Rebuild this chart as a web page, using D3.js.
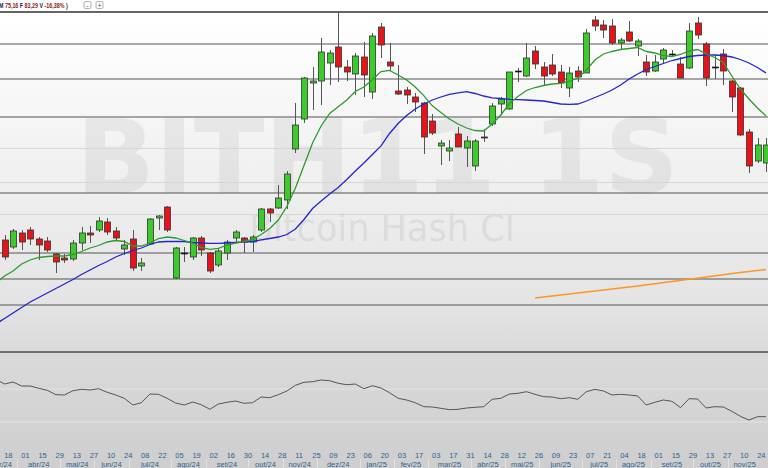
<!DOCTYPE html>
<html><head><meta charset="utf-8">
<script src="https://cdn.jsdelivr.net/npm/d3@7"></script>
<style>html,body{margin:0;padding:0;background:#fff;overflow:hidden}svg{display:block}</style>
</head><body>
<script>
// ---- data (weekly candles, index 0 = week of 18 mar 2024) ----
const openP = [54.8,52.7,56.9,57.8,55.1,54.5,50.6,49.4,49.1,53.9,
 56.9,57.8,60.2,57.5,52.1,55.1,47.0,53.6,61.4,64.7,
 43.4,50.9,49.7,55.4,50.9,47.3,50.9,55.4,55.4,54.2,
 57.8,64.1,64.4,66.8,82.1,91.1,101.9,102.5,107.9,112.7,
 106.7,104.6,109.7,99.2,118.7,108.2,99.5,99.8,97.7,95.9,
 90.5,83.0,81.5,86.6,82.4,77.0,85.7,89.6,95.6,94.1,
 105.5,104.0,111.5,106.7,107.3,105.2,100.4,105.5,104.9,120.8,
 119.3,119.0,113.9,117.2,113.0,108.2,105.5,109.1,110.6,107.6,
 106.4,119.9,113.6,106.7,110.6,102.5,100.4,87.2,78.5,77.9];
const closeP = [49.7,57.5,54.2,55.1,53.3,51.8,48.2,48.8,53.9,56.9,
 56.3,60.5,57.2,55.4,53.3,46.4,47.9,61.1,62.0,57.8,
 52.4,50.9,55.4,51.8,45.5,51.5,54.2,57.2,54.2,55.7,
 64.1,62.9,67.4,74.6,89.3,103.4,102.5,111.2,110.9,106.7,
 105.2,110.0,104.3,116.0,113.3,107.0,98.6,98.3,96.2,85.7,
 86.9,83.9,82.4,82.7,84.5,84.5,85.4,95.0,97.1,105.2,
 105.5,109.4,107.6,104.0,104.6,101.9,104.9,103.7,116.9,119.0,
 117.8,113.9,114.8,114.5,114.5,105.2,108.2,111.8,110.6,103.4,
 117.5,116.3,103.4,106.7,105.5,97.7,86.3,77.0,83.3,83.29];
const highP = [56.3,58.1,57.8,58.7,55.7,55.7,50.9,50.6,54.8,58.7,
 59.0,61.7,61.4,58.7,54.8,57.8,49.4,61.4,62.3,65.0,
 52.7,52.7,55.7,56.0,51.2,52.4,54.8,57.8,55.7,56.3,
 64.4,64.4,71.3,75.5,95.9,103.7,106.7,115.4,111.8,123.2,
 108.8,110.9,114.2,116.9,119.9,113.9,107.3,100.7,98.9,96.2,
 92.6,84.8,84.8,88.7,86.0,85.1,88.1,95.9,97.7,105.2,
 106.4,113.9,113.0,108.2,110.6,107.3,106.7,107.0,118.1,122.0,
 120.8,121.1,115.4,120.5,115.1,110.3,110.3,112.4,111.8,109.7,
 119.9,121.7,114.2,110.3,112.1,102.8,100.7,88.1,85.4,85.4];
const lowP = [48.8,52.1,51.8,53.3,48.8,51.2,44.9,47.9,48.5,51.8,
 53.9,57.2,56.3,54.5,50.3,45.5,45.5,53.3,57.8,57.2,
 43.1,48.2,48.8,50.0,44.9,46.7,48.8,53.9,50.9,51.2,
 57.2,60.2,64.1,64.1,80.9,89.9,93.8,95.3,101.3,102.2,
 102.5,98.3,97.7,97.1,109.4,105.8,98.3,95.6,93.2,80.6,
 86.3,77.3,78.5,82.7,76.7,75.5,84.2,89.0,92.3,93.8,
 102.2,103.7,106.1,101.0,104.0,100.4,97.7,102.2,104.9,117.5,
 115.4,113.3,111.8,114.2,110.0,104.0,105.2,107.6,110.0,103.4,
 106.1,115.1,101.0,103.1,101.3,93.2,86.0,74.9,77.9,75.16];

// moving averages, index -1 .. 89
const maGreen = [41.9,44.0,45.5,47.6,48.8,49.55,49.85,50.0,50.0,50.45,
 51.35,52.4,53.15,54.2,54.65,54.35,53.0,53.0,53.9,55.25,
 55.7,55.4,54.65,53.9,52.55,52.0,52.3,53.3,53.85,54.35,
 54.95,56.45,58.25,60.8,64.85,70.4,77.15,83.9,89.0,92.75,
 94.8,96.8,99.35,100.7,102.95,105.35,105.7,104.3,102.8,100.7,
 98.1,95.05,93.05,91.1,89.6,88.4,87.65,87.5,89.6,92.3,
 95.75,97.85,99.65,100.55,101.15,101.6,101.8,102.35,103.4,105.8,
 108.8,110.6,111.35,111.95,112.25,112.55,111.35,110.9,110.15,109.85,
 110.45,111.5,111.95,110.6,109.55,108.05,104.0,100.1,97.1,94.4,92.0];
const maBlue = [29.6,31.25,32.9,34.55,36.2,37.55,38.9,40.25,41.6,42.95,
 44.45,45.8,47.15,48.35,49.7,50.75,51.65,52.4,53.45,54.2,
 54.35,54.35,54.35,54.05,53.9,53.8,53.8,53.9,54.05,54.2,
 54.35,54.85,55.25,55.7,56.45,58.1,60.95,64.25,66.5,68.6,
 70.55,72.95,75.5,77.9,80.45,83.05,86.75,89.75,92.15,94.1,
 95.6,96.8,97.7,98.5,98.95,99.3,98.75,98.0,97.45,97.25,
 97.0,96.9,96.8,96.65,96.5,96.05,95.6,95.5,95.6,96.5,
 97.55,98.6,99.8,101.3,103.1,104.6,105.95,106.85,107.75,108.65,
 109.25,109.85,110.15,110.3,110.3,110.15,109.7,108.95,107.9,106.55,104.9];
const maOrangeIdx = [62,66,70,74,78,82,86,89];
const maOrange = [37.4,38.6,39.8,41.0,42.35,43.7,45.05,45.95];

// lower indicator, index -1 .. 89
const indicator = [60.7,56,58,54,54,51.7,49.7,45.3,45,49.3,
 50.7,50,51.3,47.7,45,41.7,35,37.3,46,45.7,
 41.7,37,35,38,35.3,30.7,36,37.7,39,36.7,
 37.3,43,42.3,45.3,49,54.7,57.7,58.3,60,59.3,
 56.7,55.3,56,51.3,54.3,52,47.3,41.7,40,37.3,
 33.3,33,31.7,30.3,30.7,32,32.7,33.3,40.7,41.7,
 46,46.7,48.3,45.7,43.3,43,41.3,42.3,40.7,48.3,
 50.7,49,45,45.7,45,44,35,37.7,40,38.7,
 32.3,41.3,41,32,33.3,33,28.7,23.7,20,23.3,23.3];

const levelsDark = [113.6,103.1,91.7,68.9,50.9,43.1,35.3];
const levelsLight = [82.4,72.2,62.6];
const indLevels = [51,18];

const dayTicks = ["18","01","15","29","13","27","10","24","08","22","05","19","02","16","30",
 "14","28","11","25","09","23","06","20","03","17","03","17","31","14","28",
 "12","26","09","23","07","21","04","18","01","15","29","13","27","10","24"];
const monthLabels = ["mar/24","abr/24","mai/24","jun/24","jul/24","ago/24","set/24","out/24","nov/24","dez/24",
 "jan/25","fev/25","mar/25","abr/25","mai/25","jun/25","jul/25","ago/25","set/25","out/25","nov/25"];
const monthFirst = [-2,2,7,11,15,20,24,29,33,37,42,46,50,55,59,63,68,72,76,81,85];
const monthLast  = [1,6,10,14,19,23,28,32,36,41,45,49,54,58,62,67,71,75,80,84,88];

const headerParts = ["M ","75,16 ","F ","83,29 ","V ","-16,38% ",")"];

// ---- chart ----
const W=768,H=468;
const svg=d3.select("body").append("svg").attr("width",W).attr("height",H);
const defs=svg.append("defs");
const g=defs.append("linearGradient").attr("id","bg").attr("x1",0).attr("y1",0).attr("x2",0).attr("y2",1);
[[0,"#ffffff"],[0.04,"#ffffff"],[0.35,"#f1f1f1"],[0.65,"#e4e4e4"],[0.75,"#dadada"],[1,"#cecece"]]
 .forEach(s=>g.append("stop").attr("offset",s[0]).attr("stop-color",s[1]));
defs.append("clipPath").attr("id","cp").append("rect").attr("x",0).attr("y",12).attr("width",W).attr("height",340);
defs.append("clipPath").attr("id","ci").append("rect").attr("x",0).attr("y",353).attr("width",W).attr("height",87);

svg.append("rect").attr("width",W).attr("height",H).attr("fill","url(#bg)");

const x=d3.scaleLinear().domain([0,88]).range([4.5,757.5]);
const y=d3.scaleLinear().domain([21.2,126.8]).range([352,0]);
const yi=d3.scaleLinear().domain([0,88]).range([440,352]);

// watermark
svg.append("text").attr("x",76).attr("y",193).attr("textLength",603).attr("lengthAdjust","spacingAndGlyphs")
 .attr("font-family","DejaVu Sans").attr("font-weight","bold").attr("font-size",103)
 .attr("fill","#000").attr("fill-opacity",0.055).text("BITH11 1S");
svg.append("text").attr("x",249).attr("y",241).attr("textLength",266).attr("lengthAdjust","spacingAndGlyphs")
 .attr("font-family","DejaVu Sans").attr("font-size",38)
 .attr("fill","#000").attr("fill-opacity",0.085).text("Bitcoin Hash CI");

// price levels
svg.selectAll(".ll").data(levelsLight).join("line").attr("x1",0).attr("x2",W)
 .attr("y1",d=>Math.round(y(d))+0.5).attr("y2",d=>Math.round(y(d))+0.5).attr("stroke","#d6d6d6").attr("stroke-width",1);
svg.selectAll(".ld").data(levelsDark).join("line").attr("x1",0).attr("x2",W)
 .attr("y1",d=>y(d)).attr("y2",d=>y(d)).attr("stroke","#555").attr("stroke-width",1.2);
svg.append("line").attr("x1",0).attr("x2",W).attr("y1",12).attr("y2",12).attr("stroke","#666").attr("stroke-width",2);

// indicator panel
svg.append("line").attr("x1",0).attr("x2",W).attr("y1",352).attr("y2",352).attr("stroke","#707070").attr("stroke-width",2);
svg.selectAll(".il").data(indLevels).join("line").attr("x1",0).attr("x2",W)
 .attr("y1",d=>yi(d)).attr("y2",d=>yi(d)).attr("stroke","#e4e4e4").attr("stroke-width",1.2);

const plot=svg.append("g").attr("clip-path","url(#cp)");
const idxFrom=(arr,start)=>arr.map((v,k)=>({i:k+start,v}));
const line=d3.line().x(d=>x(d.i)).y(d=>y(d.v));

// candles
const candles=openP.map((o,i)=>({i,o,c:closeP[i],h:highP[i],l:lowP[i]}));
const cg=plot.append("g");
cg.selectAll(".w").data(candles).join("line")
 .attr("x1",d=>Math.round(x(d.i))+0.5).attr("x2",d=>Math.round(x(d.i))+0.5)
 .attr("y1",d=>y(d.h)).attr("y2",d=>y(d.l)).attr("stroke","#555").attr("stroke-width",1);
cg.selectAll(".b").data(candles).join("rect")
 .attr("x",d=>Math.round(x(d.i))-2.5).attr("width",6)
 .attr("y",d=>y(Math.max(d.o,d.c))).attr("height",d=>Math.max(1,Math.abs(y(d.o)-y(d.c))))
 .attr("fill",d=>d.c>d.o?"#3dcb2b":(d.c<d.o?"#e4141a":"#111"))
 .attr("stroke",d=>d.c===d.o?"#111":"#333").attr("stroke-width",d=>d.c===d.o?0.6:0.8);

// moving averages
plot.append("path").datum(idxFrom(maBlue,-1)).attr("d",line).attr("fill","none").attr("stroke","#2424d0").attr("stroke-width",1.3);
plot.append("path").datum(idxFrom(maGreen,-1)).attr("d",line).attr("fill","none").attr("stroke","#2f9a2f").attr("stroke-width",1.3);
plot.append("path").datum(maOrange.map((v,k)=>({i:maOrangeIdx[k],v}))).attr("d",line).attr("fill","none").attr("stroke","#ff9526").attr("stroke-width",1.3);

// indicator line
svg.append("g").attr("clip-path","url(#ci)").append("path").datum(idxFrom(indicator,-1))
 .attr("d",d3.line().x(d=>x(d.i)).y(d=>yi(d.v))).attr("fill","none").attr("stroke","#555").attr("stroke-width",1);

// axis labels
const ax=svg.append("g").attr("font-family","Liberation Sans, Arial, sans-serif").attr("font-size",7.5).attr("fill","#2d5f92");
ax.selectAll(".d").data(dayTicks).join("text").attr("x",(d,k)=>x(k*2)-0.3).attr("y",457.5).text(d=>d);
ax.selectAll(".mb").data(monthFirst.slice(1)).join("line")
 .attr("x1",d=>Math.round(x(d-0.5))+0.5).attr("x2",d=>Math.round(x(d-0.5))+0.5).attr("y1",459).attr("y2",468)
 .attr("stroke","#e2e2e2").attr("stroke-width",1);
ax.selectAll(".m").data(monthLabels).join("text").attr("text-anchor","middle")
 .attr("x",(d,k)=>x((monthFirst[k]+monthLast[k])/2)).attr("y",466.5).text(d=>d);

// header: one text, horizontally condensed
const hd=svg.append("text").attr("transform","translate(-1,8) scale(0.67,1)")
 .attr("font-family","Liberation Sans, Arial, sans-serif").attr("font-size",8).attr("font-weight","bold");
hd.selectAll("tspan").data(headerParts).join("tspan").attr("fill",(d,k)=>k%2===0?"#1c1c48":"#8e1c22").text(d=>d);
[[84,"-"],[96,"+"]].forEach(b=>{
 svg.append("rect").attr("x",b[0]).attr("y",1.5).attr("width",7).attr("height",7).attr("rx",1.5)
  .attr("fill","#fff").attr("stroke","#999").attr("stroke-width",0.8);
 svg.append("text").attr("x",b[0]+3.5).attr("y",7.6).attr("text-anchor","middle").attr("font-size",7)
  .attr("font-family","Liberation Sans, Arial").attr("fill","#555").text(b[1]);
});
</script>
</body></html>
